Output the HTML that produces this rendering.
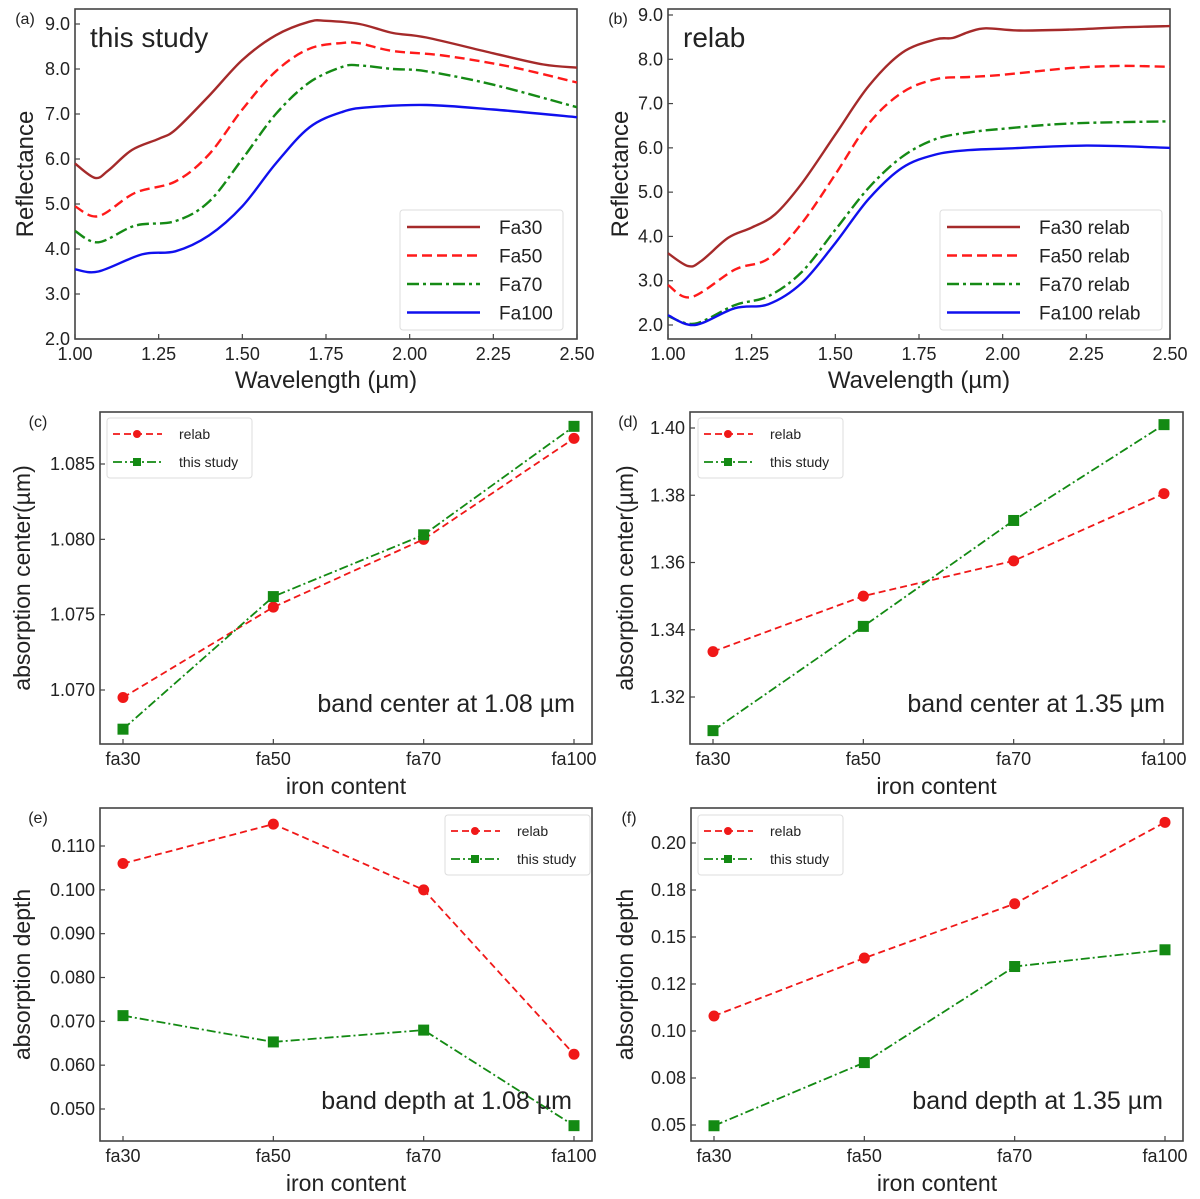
<!DOCTYPE html>
<html><head><meta charset="utf-8"><style>
html,body{margin:0;padding:0;background:#fff}
svg{display:block}
text{font-family:"Liberation Sans","DejaVu Sans",sans-serif;fill:#222}
</style></head><body>
<svg id="fig" width="1200" height="1199" viewBox="0 0 1200 1199" xmlns="http://www.w3.org/2000/svg"></svg>
<script>
// ---- Spectra data (panel a: this study) ----
const waveA30=[1.00,1.06,1.10,1.17,1.25,1.30,1.40,1.50,1.60,1.70,1.75,1.85,1.95,2.05,2.25,2.40,2.50];
const reflA30=[5.9,5.58,5.75,6.2,6.45,6.65,7.4,8.2,8.75,9.05,9.07,9.0,8.8,8.7,8.35,8.1,8.03];
const waveA50=[1.00,1.07,1.18,1.30,1.40,1.50,1.60,1.70,1.80,1.85,1.95,2.10,2.30,2.50];
const reflA50=[4.95,4.73,5.25,5.5,6.1,7.1,7.95,8.45,8.58,8.57,8.4,8.3,8.05,7.7];
const waveA70=[1.00,1.07,1.18,1.30,1.40,1.50,1.60,1.70,1.80,1.85,1.95,2.05,2.25,2.50];
const reflA70=[4.4,4.15,4.52,4.62,5.05,6.0,7.0,7.7,8.05,8.08,8.0,7.95,7.65,7.15];
const waveA100=[1.00,1.07,1.20,1.30,1.40,1.50,1.60,1.70,1.80,1.88,2.05,2.25,2.50];
const reflA100=[3.55,3.5,3.88,3.95,4.3,4.95,5.9,6.7,7.05,7.15,7.2,7.1,6.93];
// ---- Spectra data (panel b: relab) ----
const waveB30=[1.00,1.06,1.10,1.18,1.25,1.32,1.40,1.50,1.60,1.70,1.80,1.85,1.90,1.95,2.05,2.20,2.35,2.50];
const reflB30=[3.62,3.33,3.45,3.97,4.2,4.5,5.2,6.3,7.4,8.15,8.45,8.48,8.62,8.7,8.65,8.67,8.72,8.75];
const waveB50=[1.00,1.07,1.20,1.30,1.40,1.50,1.60,1.70,1.80,1.90,2.00,2.20,2.35,2.50];
const reflB50=[2.9,2.63,3.25,3.5,4.3,5.4,6.55,7.25,7.55,7.6,7.65,7.8,7.85,7.83];
const waveB70=[1.00,1.08,1.20,1.30,1.40,1.50,1.60,1.70,1.80,1.90,2.00,2.20,2.50];
const reflB70=[2.2,2.03,2.45,2.65,3.2,4.15,5.1,5.8,6.2,6.35,6.43,6.55,6.6];
const waveB100=[1.00,1.08,1.20,1.30,1.40,1.50,1.60,1.70,1.80,1.90,2.00,2.25,2.50];
const reflB100=[2.22,2.0,2.38,2.47,2.95,3.85,4.85,5.55,5.85,5.95,5.98,6.05,6.0];
// ---- Band parameter data ----
const ironCats=["fa30","fa50","fa70","fa100"];
const centerC_relab=[1.0695,1.0755,1.0800,1.0867];
const centerC_study=[1.0674,1.0762,1.0803,1.0875];
const centerD_relab=[1.3335,1.350,1.3605,1.3805];
const centerD_study=[1.310,1.341,1.3725,1.401];
const depthE_relab=[0.106,0.115,0.100,0.0625];
const depthE_study=[0.0713,0.0653,0.0680,0.0462];
const depthF_relab=[0.108,0.1388,0.1677,0.211];
const depthF_study=[0.0496,0.0832,0.1343,0.1432];
// ---- Tick arrays ----
const spectraXTicks=[1.00,1.25,1.50,1.75,2.00,2.25,2.50];
const spectraXLabels=["1.00","1.25","1.50","1.75","2.00","2.25","2.50"];
const spectraYTicks=[2,3,4,5,6,7,8,9];
const spectraYLabels=["2.0","3.0","4.0","5.0","6.0","7.0","8.0","9.0"];
const cYTicks=[1.070,1.075,1.080,1.085];
const cYLabels=["1.070","1.075","1.080","1.085"];
const dYTicks=[1.32,1.34,1.36,1.38,1.40];
const dYLabels=["1.32","1.34","1.36","1.38","1.40"];
const eYTicks=[0.05,0.06,0.07,0.08,0.09,0.10,0.11];
const eYLabels=["0.050","0.060","0.070","0.080","0.090","0.100","0.110"];
const fYTicks=[0.05,0.075,0.10,0.125,0.15,0.175,0.20];
const fYLabels=["0.05","0.08","0.10","0.12","0.15","0.18","0.20"];

const NS="http://www.w3.org/2000/svg";
const fig=document.getElementById('fig');
function mk(tag,attrs,parent){const e=document.createElementNS(NS,tag);for(const k in attrs)e.setAttribute(k,attrs[k]);(parent||fig).appendChild(e);return e;}
function txt(s,attrs,parent){const e=mk('text',attrs,parent);e.textContent=s;return e;}
function lin(v0,p0,v1,p1){return v=>p0+(v-v0)*(p1-p0)/(v1-v0);}
function smoothPath(pts){
  let d="M"+pts[0][0].toFixed(1)+","+pts[0][1].toFixed(1);
  for(let i=0;i<pts.length-1;i++){
    const p0=pts[Math.max(i-1,0)],p1=pts[i],p2=pts[i+1],p3=pts[Math.min(i+2,pts.length-1)];
    const c1=[p1[0]+(p2[0]-p0[0])/6,p1[1]+(p2[1]-p0[1])/6];
    const c2=[p2[0]-(p3[0]-p1[0])/6,p2[1]-(p3[1]-p1[1])/6];
    d+=" C"+c1.map(v=>v.toFixed(1))+" "+c2.map(v=>v.toFixed(1))+" "+p2[0].toFixed(1)+","+p2[1].toFixed(1);
  }
  return d;
}
function axes(g,box,xs,ys,xt,xl,yt,yl,fs){
  const r=mk('rect',{x:box.l,y:box.t,width:box.r-box.l,height:box.b-box.t,fill:'none',stroke:'#444','stroke-width':1.6},g);
  
  
  const xg=mk('g',{},g);
  
  
  xt.forEach((v,i)=>{const x=xs(v);
    mk('line',{x1:x,x2:x,y1:box.b,y2:box.b-5,stroke:'#444','stroke-width':1.2},xg);
    const t=txt(xl[i],{x:x,y:box.b+21,'font-size':fs,'text-anchor':'middle'},xg);
    
    });
  const yg=mk('g',{},g);
  
  
  yt.forEach((v,i)=>{const y=ys(v);
    mk('line',{x1:box.l,x2:box.l+5,y1:y,y2:y,stroke:'#444','stroke-width':1.2},yg);
    const t=txt(yl[i],{x:box.l-5,y:y+6,'font-size':fs,'text-anchor':'end'},yg);
    
    });
}
function label(g,s,x,y,fs,rot,name){
  const t=txt(s,{x:x,y:y,'font-size':fs,'text-anchor':'middle',transform:rot?`rotate(-90 ${x} ${y})`:''},g);
  
  
}

// ---- Spectra panels ----
const spStyles=[{c:'#a52a2a',d:''},{c:'#ff1a1a',d:'10,5'},{c:'#158a15',d:'12,4,3,4'},{c:'#1010ee',d:''}];
function spectraPanel(id,box,xs,ys,series,names,legBox,title,yLabX){
  const g=mk('g',{});
  
  
  axes(g,box,xs,ys,spectraXTicks,spectraXLabels,spectraYTicks,spectraYLabels,18);
  series.forEach((s,i)=>{
    const p=mk('path',{d:smoothPath(s[0].map((w,j)=>[xs(w),ys(s[1][j])])),fill:'none',stroke:spStyles[i].c,'stroke-width':2.4,'stroke-dasharray':spStyles[i].d},g);
    
    
  });
  const lg=mk('g',{},g);
  
  
  mk('rect',{x:legBox.x,y:legBox.y,width:legBox.w,height:120,fill:'#fff',stroke:'#ddd','stroke-width':1,rx:3},lg);
  names.forEach((n,i)=>{const y=legBox.y+17+i*28.5;
    const e=mk('g',{},lg);
    
    
    mk('line',{x1:legBox.x+7,x2:legBox.x+80,y1:y,y2:y,stroke:spStyles[i].c,'stroke-width':2.4,'stroke-dasharray':spStyles[i].d},e);
    txt(n,{x:legBox.x+99,y:y+7,'font-size':19},e);});
  const t=txt(title,{x:box.l+15,y:box.t+38,'font-size':28},g);
  
  
  label(g,'('+id+')',box.l-50,box.t+15,16,false,'panel-letter');
  label(g,'Reflectance',yLabX,(box.t+box.b)/2,24,true,'y-axis-title');
  label(g,'Wavelength (µm)',(box.l+box.r)/2,box.b+49,24,false,'x-axis-title');
}
const boxA={l:75,t:9,r:577,b:339};
spectraPanel('a',boxA,lin(1,75,2.5,577),lin(9,24,2,339),
  [[waveA30,reflA30],[waveA50,reflA50],[waveA70,reflA70],[waveA100,reflA100]],
  ['Fa30','Fa50','Fa70','Fa100'],{x:400,y:210,w:163},'this study',33);
const boxB={l:668,t:9,r:1170,b:339};
spectraPanel('b',boxB,lin(1,668,2.5,1170),lin(9,15,2,325),
  [[waveB30,reflB30],[waveB50,reflB50],[waveB70,reflB70],[waveB100,reflB100]],
  ['Fa30 relab','Fa50 relab','Fa70 relab','Fa100 relab'],{x:940,y:210,w:222},'relab',628);

// ---- Band parameter panels ----
function bandPanel(id,box,ys,yt,yl,relab,study,legXY,note,noteX,ylab,yLabX){
  const xs=lin(0,box.l+23,3,box.l+474);
  const g=mk('g',{});
  
  
  axes(g,box,xs,ys,[0,1,2,3],ironCats,yt,yl,18);
  const red='#f01818',green='#138a13';
  const pr=mk('polyline',{points:relab.map((v,i)=>xs(i)+','+ys(v)).join(' '),fill:'none',stroke:red,'stroke-width':1.8,'stroke-dasharray':'7,4'},g);
  
  
  const ps=mk('polyline',{points:study.map((v,i)=>xs(i)+','+ys(v)).join(' '),fill:'none',stroke:green,'stroke-width':1.8,'stroke-dasharray':'9,3,2,3'},g);
  
  
  relab.forEach((v,i)=>{const c=mk('circle',{cx:xs(i),cy:ys(v),r:5.5,fill:red},g);
    
    });
  study.forEach((v,i)=>{const c=mk('rect',{x:xs(i)-5.5,y:ys(v)-5.5,width:11,height:11,fill:green},g);
    
    });
  const lg=mk('g',{},g);
  
  
  mk('rect',{x:legXY[0],y:legXY[1],width:145,height:60,fill:'#fff',stroke:'#ddd','stroke-width':1,rx:3},lg);
  [[red,'7,4','relab'],[green,'9,3,2,3','this study']].forEach((s,i)=>{
    const y=legXY[1]+16+i*28;
    const e=mk('g',{},lg);
    
    
    mk('line',{x1:legXY[0]+6,x2:legXY[0]+55,y1:y,y2:y,stroke:s[0],'stroke-width':1.8,'stroke-dasharray':s[1]},e);
    if(i==0)mk('circle',{cx:legXY[0]+30,cy:y,r:4,fill:s[0]},e);else mk('rect',{x:legXY[0]+26,y:y-4,width:8,height:8,fill:s[0]},e);
    txt(s[2],{x:legXY[0]+72,y:y+5,'font-size':14},e);});
  const n=txt(note,{x:noteX,y:box.b-32,'font-size':25,'text-anchor':'end'},g);
  
  
  label(g,'('+id+')',box.l-62,box.t+15,16,false,'panel-letter');
  label(g,ylab,yLabX,(box.t+box.b)/2,23,true,'y-axis-title');
  label(g,'iron content',(box.l+box.r)/2,box.b+50,23,false,'x-axis-title');
}
bandPanel('c',{l:100,t:412,r:592,b:744},lin(1.085,464,1.070,690),cYTicks,cYLabels,centerC_relab,centerC_study,[107,418],'band center at 1.08 µm',575,'absorption center(µm)',30);
bandPanel('d',{l:690,t:412,r:1183,b:744},lin(1.40,428,1.32,697),dYTicks,dYLabels,centerD_relab,centerD_study,[698,418],'band center at 1.35 µm',1165,'absorption center(µm)',633);
bandPanel('e',{l:100,t:808,r:592,b:1141},lin(0.110,846,0.050,1109),eYTicks,eYLabels,depthE_relab,depthE_study,[445,815],'band depth at 1.08 µm',572,'absorption depth',30);
bandPanel('f',{l:691,t:808,r:1183,b:1141},lin(0.20,843,0.05,1125),fYTicks,fYLabels,depthF_relab,depthF_study,[698,815],'band depth at 1.35 µm',1163,'absorption depth',633);
</script>
</body></html>
